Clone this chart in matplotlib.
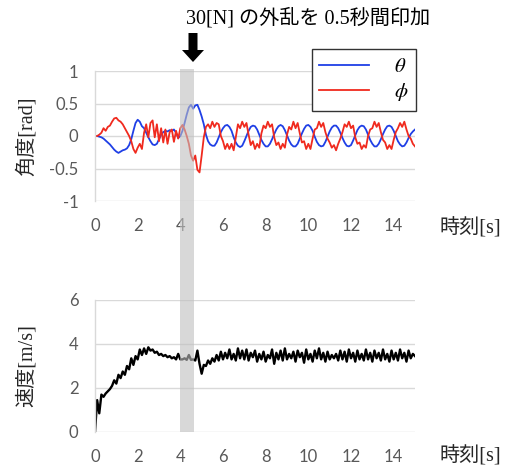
import numpy as np
import matplotlib
matplotlib.use("Agg")
import matplotlib.pyplot as plt
from matplotlib.patches import Rectangle, Polygon
from matplotlib.transforms import blended_transform_factory

time_s = np.linspace(0, 15, 151)

theta = [
    0.0, 0.0, -0.01, -0.02, -0.04, -0.07, -0.1, -0.13, -0.17, -0.21,
    -0.24, -0.26, -0.24, -0.22, -0.21, -0.19, -0.14, -0.05, 0.08, 0.2,
    0.25, 0.22, 0.15, 0.12, 0.05, -0.02, -0.08, -0.13, -0.14, -0.12,
    -0.05, 0.02, 0.06, 0.08, 0.07, 0.09, 0.08, 0.1, 0.05, -0.03,
    0.0, 0.08, 0.2, 0.33, 0.44, 0.48, 0.42, 0.47, 0.48, 0.4,
    0.3, 0.18, 0.02, -0.08, -0.13, -0.15, -0.15, -0.1, -0.02, 0.06,
    0.12, 0.16, 0.17, 0.14, 0.08, -0.02, -0.1, -0.15, -0.17, -0.15,
    -0.08, 0.0, 0.08, 0.14, 0.16, 0.15, 0.1, 0.02, -0.06, -0.12,
    -0.16, -0.16, -0.12, -0.05, 0.03, 0.1, 0.15, 0.17, 0.15, 0.09,
    0.01, -0.07, -0.13, -0.16, -0.16, -0.12, -0.04, 0.04, 0.11, 0.16,
    0.17, 0.14, 0.08, -0.01, -0.09, -0.14, -0.16, -0.15, -0.09, -0.01,
    0.07, 0.13, 0.16, 0.16, 0.12, 0.05, -0.03, -0.1, -0.15, -0.16,
    -0.14, -0.07, 0.01, 0.09, 0.14, 0.16, 0.15, 0.1, 0.02, -0.06,
    -0.12, -0.16, -0.16, -0.12, -0.05, 0.03, 0.1, 0.15, 0.16, 0.14,
    0.08, 0.0, -0.08, -0.13, -0.16, -0.15, -0.1, -0.03, 0.03, 0.07,
    0.1,
]

phi = [
    0.0, 0.0, 0.02, 0.05, 0.12, 0.08, 0.14, 0.16, 0.22, 0.27,
    0.28, 0.24, 0.22, 0.18, 0.12, 0.06, 0.0, -0.08, -0.2, -0.26,
    -0.18, -0.12, -0.2, 0.05, 0.18, -0.02, 0.2, 0.24, -0.02, 0.18,
    -0.08, 0.12, -0.1, 0.1, -0.12, 0.06, 0.1, -0.09, 0.08, -0.04,
    0.12, 0.17, 0.1, 0.0, -0.12, -0.3, -0.38, -0.3, -0.52, -0.56,
    -0.3, -0.02, 0.14, 0.18, 0.12, 0.22, 0.14, 0.2, 0.18, 0.0,
    -0.08, -0.2, -0.12, -0.2, -0.12, -0.22, -0.02, 0.18, 0.12, 0.22,
    0.14, 0.2, 0.02, -0.14, -0.08, -0.2, -0.12, -0.18, 0.04, 0.16,
    0.12, 0.22, 0.14, 0.18, -0.02, -0.14, -0.1, -0.2, -0.12, -0.18,
    0.02, 0.14, 0.1, 0.22, 0.12, 0.2, 0.04, -0.1, -0.08, -0.2,
    -0.12, -0.2, -0.04, 0.1, 0.12, 0.22, 0.14, 0.2, 0.06, -0.04,
    -0.1, -0.18, -0.14, -0.22, -0.12, -0.04, 0.06, 0.18, 0.14, 0.22,
    0.12, 0.16, -0.02, -0.12, -0.1, -0.2, -0.14, -0.18, 0.0, 0.1,
    0.12, 0.22, 0.14, 0.2, 0.06, -0.06, -0.1, -0.2, -0.14, -0.2,
    -0.06, 0.06, 0.12, 0.2, 0.14, 0.22, 0.1, 0.0, -0.04, -0.12,
    -0.16,
]

speed = [
    0.0, 1.45, 0.85, 1.7, 1.6, 1.75, 1.85, 1.95, 2.1, 2.35,
    2.2, 2.6, 2.45, 2.75, 2.6, 3.0, 2.85, 3.35, 3.05, 3.45,
    3.3, 3.75, 3.5, 3.8, 3.55, 3.85, 3.7, 3.75, 3.6, 3.65,
    3.5, 3.55, 3.45, 3.5, 3.4, 3.45, 3.35, 3.4, 3.3, 3.55,
    3.3, 3.3, 3.35, 3.28, 3.5, 3.28, 3.3, 3.25, 3.7, 3.1,
    2.65, 3.05, 3.0, 3.25, 3.1, 3.35, 3.2, 3.5, 3.25, 3.65,
    3.3, 3.6, 3.35, 3.75, 3.3, 3.55, 3.25, 3.8, 3.35, 3.7,
    3.3, 3.75, 3.25, 3.6, 3.4, 3.7, 3.2, 3.55, 3.3, 3.65,
    3.2, 3.5, 3.35, 3.75, 3.1, 3.6, 3.3, 3.7, 3.25, 3.8,
    3.3, 3.55, 3.35, 3.65, 3.2, 3.7, 3.4, 3.6, 3.15, 3.75,
    3.3, 3.55, 3.2, 3.7, 3.35, 3.8, 3.3, 3.6, 3.2, 3.65,
    3.3, 3.5, 3.35, 3.55, 3.25, 3.7, 3.3, 3.65, 3.2, 3.75,
    3.35, 3.6, 3.2, 3.7, 3.3, 3.55, 3.25, 3.75, 3.3, 3.6,
    3.2, 3.7, 3.35, 3.6, 3.25, 3.75, 3.3, 3.55, 3.2, 3.7,
    3.3, 3.6, 3.25, 3.75, 3.35, 3.6, 3.2, 3.7, 3.35, 3.55,
    3.45,
]

disturb_start, disturb_end = 4.0, 4.65

angle_ticks = [-1, -0.5, 0, 0.5, 1]
angle_tick_labels = ['-1', '-0.5', '0', '0.5', '1']
speed_ticks = [0, 2, 4, 6]
time_ticks = [0, 2, 4, 6, 8, 10, 12, 14]

# --- style ---
plt.rcParams['mathtext.fontset'] = 'stix'
TICK_FONT = ['Lato', 'DejaVu Sans']
LABEL_FONT = ['Liberation Serif', 'Noto Sans CJK JP']
GRID = '#d9d9d9'
TICK_COLOR = '#595959'

W, H = 507, 468
fig = plt.figure(figsize=(W / 100, H / 100), dpi=100)


def px_axes(left, top, right, bottom):
    return fig.add_axes([left / W, 1 - bottom / H, (right - left) / W, (bottom - top) / H])


def style_axes(ax):
    for side in ['top', 'right', 'bottom']:
        ax.spines[side].set_visible(False)
    ax.spines['left'].set_color(GRID)
    ax.spines['left'].set_linewidth(1.0)
    ax.grid(axis='y', color=GRID, linewidth=1.0)
    ax.set_axisbelow(True)
    ax.tick_params(length=0, pad=12, labelcolor=TICK_COLOR)
    ax.set_xlim(0, 15)
    ax.set_xticks(time_ticks)
    for lab in ax.get_xticklabels() + ax.get_yticklabels():
        lab.set_family(TICK_FONT)
        lab.set_fontsize(12)


# upper: angles
ax1 = px_axes(95, 71, 415, 201)
ax1.plot(time_s, theta, color='#1f3fe6', lw=1.3, label=r'$\theta$')
ax1.plot(time_s, phi, color='#f02a1e', lw=1.3, label=r'$\phi$')
ax1.set_ylim(-1, 1)
ax1.set_yticks(angle_ticks)
ax1.set_yticklabels(angle_tick_labels)
style_axes(ax1)

leg = ax1.legend(loc='upper left', bbox_to_anchor=(312 / W, 1 - 49 / H),
                 bbox_transform=fig.transFigure, borderaxespad=0,
                 fancybox=False, framealpha=1, edgecolor='#333333',
                 fontsize=15, handlelength=2.4, handletextpad=1.2,
                 labelspacing=0.25, borderpad=0.35)
leg.get_frame().set_linewidth(1.0)

# lower: speed
ax2 = px_axes(95, 300, 415, 432)
ax2.plot(time_s, speed, color='black', lw=1.7)
ax2.set_ylim(0, 6)
ax2.set_yticks(speed_ticks)
style_axes(ax2)

# disturbance band across both panels
band_tr = blended_transform_factory(ax1.transData, fig.transFigure)
band = Rectangle((disturb_start, 1 - 432 / H), disturb_end - disturb_start,
                 (432 - 69) / H, transform=band_tr, color='#bfbfbf',
                 alpha=0.6, lw=0, zorder=5)
fig.add_artist(band)

# arrow + annotation
arrow = Polygon([(1.885, 4.35), (1.975, 4.35), (1.975, 4.18), (2.04, 4.18),
                 (1.93, 4.06), (1.82, 4.18), (1.885, 4.18)],
                closed=True, transform=fig.dpi_scale_trans,
                facecolor='black', edgecolor='none')
fig.add_artist(arrow)
fig.text(308 / W, 1 - 18 / H, '30[N] の外乱を 0.5秒間印加', ha='center', va='center',
         family=LABEL_FONT, fontsize=14.5, color='black')

# axis titles
fig.text(26 / W, 1 - 136 / H, '角度[rad]', rotation=90, ha='center', va='center',
         family=LABEL_FONT, fontsize=14.5, color='#262626')
fig.text(26 / W, 1 - 366 / H, '速度[m/s]', rotation=90, ha='center', va='center',
         family=LABEL_FONT, fontsize=14.5, color='#262626')
fig.text(470 / W, 1 - 228 / H, '時刻[s]', ha='center', va='center',
         family=LABEL_FONT, fontsize=14.5, color='#262626')
fig.text(470 / W, 1 - 456 / H, '時刻[s]', ha='center', va='center',
         family=LABEL_FONT, fontsize=14.5, color='#262626')

fig.savefig('out.png', dpi=100)
